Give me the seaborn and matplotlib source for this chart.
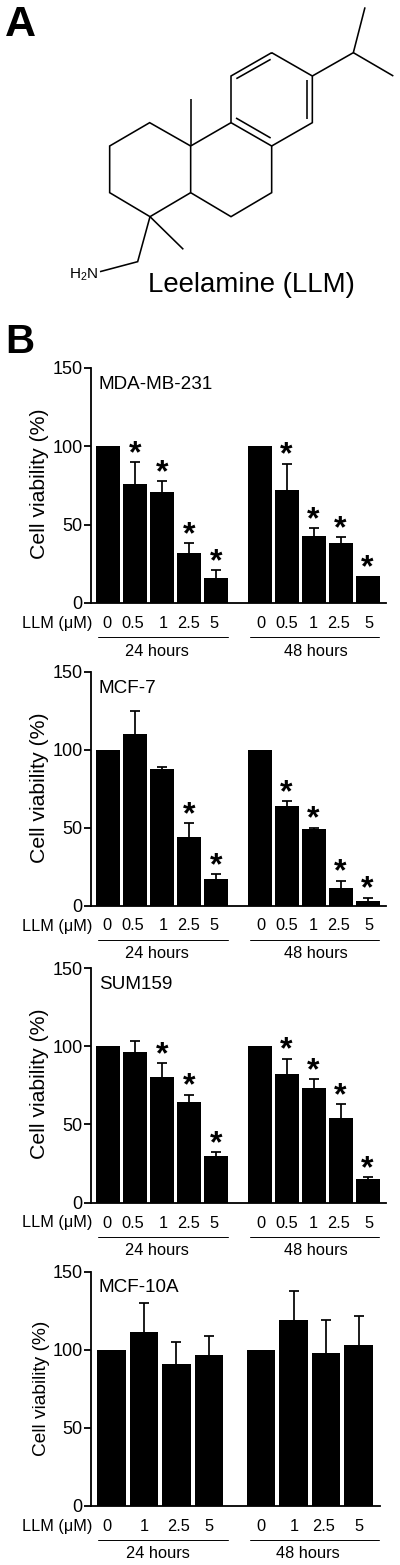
import pandas as pd
import seaborn as sns
import matplotlib.pyplot as plt

W, H = 400, 1565

# viability values
mda_24 = [100, 76, 71, 32, 16]
mda_48 = [100, 72, 43, 38, 17]
mda_err_24 = [0, 14, 7, 6, 5]
mda_err_48 = [0, 17, 5, 4, 0]
mda_sig_24 = [0, 1, 1, 1, 1]
mda_sig_48 = [0, 1, 1, 1, 1]

mcf7_24 = [100, 110, 88, 44, 17]
mcf7_48 = [100, 64, 49, 11, 3]
mcf7_err_24 = [0, 15, 0.7, 9, 3]
mcf7_err_48 = [0, 3, 1, 5, 2]
mcf7_sig_24 = [0, 0, 0, 1, 1]
mcf7_sig_48 = [0, 1, 1, 1, 1]

sum_24 = [100, 96, 80, 64, 30]
sum_48 = [100, 82, 73, 54, 15]
sum_err_24 = [0, 7, 9, 5, 2]
sum_err_48 = [0, 10, 6, 9, 1]
sum_sig_24 = [0, 0, 1, 1, 1]
sum_sig_48 = [0, 1, 1, 1, 1]

mcf10_24 = [100, 111, 91, 96.5]
mcf10_48 = [100, 119, 98, 103]
mcf10_err_24 = [0, 19, 14, 12.5]
mcf10_err_48 = [0, 18.5, 21, 18.5]
mcf10_sig_24 = [0, 0, 0, 0]
mcf10_sig_48 = [0, 0, 0, 0]

doses_5 = ["0", "0.5", "1", "2.5", "5"]
doses_4 = ["0", "1", "2.5", "5"]
times = ["24 hours", "48 hours"]
y_ticks = [0, 50, 100, 150]

sns.set_style("ticks")
plt.rcParams["font.family"] = ["Liberation Sans", "DejaVu Sans"]
plt.rcParams["mathtext.default"] = "regular"
plt.rcParams["text.color"] = "black"
plt.rcParams["ytick.color"] = "black"
plt.rcParams["axes.edgecolor"] = "black"

fig = plt.figure(figsize=(W / 100, H / 100), dpi=100)

# pixel-space layer for the structure and the labels under the bars
over = fig.add_axes([0, 0, 1, 1])
over.set_xlim(0, W)
over.set_ylim(H, 0)
over.axis("off")


def bonds(pts):
    over.plot([p[0] / 3 for p in pts], [p[1] / 3 for p in pts],
              color="black", lw=1.15, solid_joinstyle="miter", solid_capstyle="butt")


# leelamine skeleton, traced on a 3x crop
bonds([(815, 158), (937, 228), (937, 368), (815, 438), (693, 368), (693, 228), (815, 158)])
bonds([(709, 236), (812, 178)])
bonds([(920, 240), (920, 356)])
bonds([(708, 354), (812, 414)])
bonds([(937, 228), (1060, 158), (1095, 22)])
bonds([(1060, 158), (1180, 228)])
bonds([(693, 368), (572, 438), (572, 578), (693, 650), (815, 578), (815, 438)])
bonds([(572, 438), (449, 368), (329, 438), (329, 578), (450, 650), (572, 578)])
bonds([(572, 438), (572, 297)])
bonds([(450, 650), (550, 748)])
bonds([(450, 650), (413, 785), (300, 815)])

over.text(69, 275, "H$_2$N", fontsize=11, ha="left", va="center")
over.text(148, 292, "Leelamine (LLM)", fontsize=19.9, ha="left", va="baseline")
over.text(5, 36, "A", fontsize=31, fontweight="bold", ha="left", va="baseline")
over.text(5, 353, "B", fontsize=29, fontweight="bold", ha="left", va="baseline")


def panel(name, y_top, y_zero, right, vals, errs, sigs, doses,
          start, step, bar_w, start2, lab_x, hour_x, ylab_x, ylab_y, ylab_fs):
    ax = fig.add_axes([91 / W, 1 - y_zero / H, (right - 91) / W, (y_zero - y_top) / H])
    ax.patch.set_alpha(0)

    xs = [start + i * step for i in range(len(doses))] + [start2 + i * step for i in range(len(doses))]
    df = pd.DataFrame({"x": xs, "viability": vals[0] + vals[1],
                       "err": errs[0] + errs[1], "sig": sigs[0] + sigs[1]})
    df["top"] = df["viability"] + df["err"]
    sns.barplot(data=df, x="x", y="viability", native_scale=True, color="black",
                saturation=1, width=bar_w / step, errorbar=None, linewidth=0, ax=ax)

    # upper error bars only, no cap on the bar top
    has_err = df[df["err"] > 0]
    ax.vlines(has_err["x"], has_err["viability"], has_err["top"], color="black", lw=1.25, clip_on=False)
    ax.plot(has_err["x"], has_err["top"], ls="none", marker="_", ms=7.2, mew=1.25,
            color="black", clip_on=False)

    for row in df[df["sig"] == 1].itertuples():
        ax.annotate("*", (row.x, row.top), xytext=(0, 0), textcoords="offset points",
                    ha="center", va="baseline", fontsize=23, fontweight="bold", annotation_clip=False)

    ax.set_xlim(91, right)
    ax.set_ylim(0, 150)
    ax.set_xticks([])
    ax.set_yticks(y_ticks)
    ax.tick_params(axis="y", length=5, width=1.3, labelsize=13, pad=1)
    ax.set_xlabel("")
    ax.set_ylabel("")
    sns.despine(ax=ax)
    ax.spines["left"].set_linewidth(1.3)
    ax.spines["bottom"].set_linewidth(1.3)

    over.text(ylab_x, ylab_y, "Cell viability (%)", rotation=90, fontsize=ylab_fs,
              ha="center", va="center")
    over.text(99, y_top + 21, name, fontsize=13.6, ha="left", va="baseline")

    over.text(92, y_zero + 20.5, "LLM (μM)", fontsize=11.7, ha="right", va="center")
    for x, d in zip(lab_x, doses + doses):
        over.text(x, y_zero + 20.5, d, fontsize=11.8, ha="center", va="center")
    for x0, x1, cx, t in zip([98, 250], [228, 379], hour_x, times):
        over.plot([x0, x1], [y_zero + 34, y_zero + 34], color="black", lw=0.7)
        over.text(cx, y_zero + 48, t, fontsize=11.8, ha="center", va="center")


lab_5 = [107, 133, 163, 189, 214, 261, 287, 313, 339, 369]
lab_4 = [107, 144, 179, 209, 261, 294, 324, 359]

panel("MDA-MB-231", 368, 603, 386, [mda_24, mda_48], [mda_err_24, mda_err_48],
      [mda_sig_24, mda_sig_48], doses_5, 108, 27, 24, 259.5, lab_5, [157, 316], 40, 484, 15.3)
panel("MCF-7", 672, 905.5, 386, [mcf7_24, mcf7_48], [mcf7_err_24, mcf7_err_48],
      [mcf7_sig_24, mcf7_sig_48], doses_5, 108, 27, 24, 259.5, lab_5, [157, 316], 40, 788, 15.3)
panel("SUM159", 968, 1202.5, 386, [sum_24, sum_48], [sum_err_24, sum_err_48],
      [sum_sig_24, sum_sig_48], doses_5, 108, 27, 24, 259.5, lab_5, [157, 316], 40, 1084, 15.3)
panel("MCF-10A", 1271.5, 1506, 380, [mcf10_24, mcf10_48], [mcf10_err_24, mcf10_err_48],
      [mcf10_sig_24, mcf10_sig_48], doses_4, 111.3, 32.5, 28.5, 261, lab_4, [158, 308], 42, 1388, 13.8)

fig.savefig("out.png", dpi=100)
